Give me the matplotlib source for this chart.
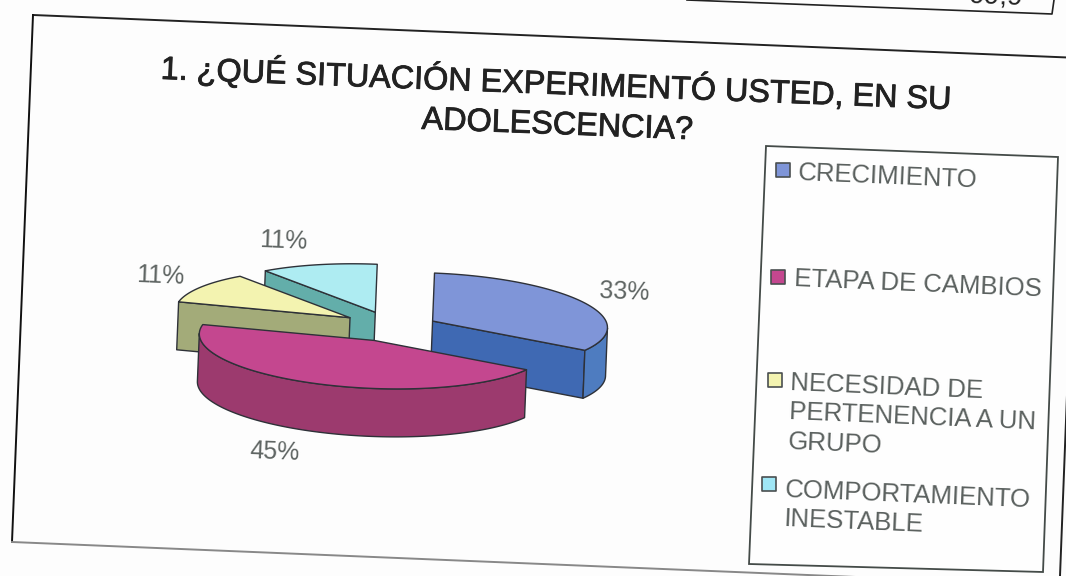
#!/usr/bin/env python3

import numpy as np
import matplotlib
matplotlib.use('Agg')
import matplotlib.pyplot as plt
import matplotlib.patheffects as pe
from matplotlib.patches import Polygon
from matplotlib.transforms import Affine2D

title_lines = ['1. ¿QUÉ SITUACIÓN EXPERIMENTÓ USTED, EN SU', 'ADOLESCENCIA?']
categories = ['CRECIMIENTO', 'ETAPA DE CAMBIOS',
              'NECESIDAD DE\nPERTENENCIA A UN\nGRUPO',
              'COMPORTAMIENTO\nINESTABLE']
values = [33, 45, 11, 11]
table_total = '99,9'

# colours per slice
top_col = ['#7F95D8', '#C4478F', '#F3F3B0', '#AEECF2']
cut_col = ['#3F69B3', '#9C3A6E', '#A3AB79', '#63AEAA']
wall_col = ['#4E7CC0', '#9C3A6E', '#A3AB79', '#63AEAA']
legend_col = ['#7F95D8', '#C4478F', '#F3F3B0', '#9FE6F5']

# pie layout, in image pixels
cx, cy = 391, 327
rx, ry = 175, 48
depth = 48
ex, ey = 48, 15
tilt = 2.3

label_xy = [(624, 292), (275, 452), (160, 276), (283, 241)]
legend_patch_xy = [(783, 170), (778, 277), (775, 380), (769, 484)]
legend_text_xy = [(798, 173), (794, 279), (790, 383), (785, 490)]
line_step = 29.5

fig = plt.figure(figsize=(10.66, 5.76), dpi=100, facecolor='#FDFDFD')
ax = fig.add_axes([0, 0, 1, 1])
ax.set_xlim(0, 1066)
ax.set_ylim(576, 0)
ax.axis('off')
plt.rcParams['font.family'] = ['Liberation Sans', 'DejaVu Sans']

# scanned page frames
ax.plot([33, 1080, 1060], [15, 58, 576], color='#222222', lw=1.4)
ax.plot([33, 12], [15, 542], color='#111111', lw=1.4)
ax.plot([12, 880], [542, 578], color='#888888', lw=1.4)
ax.plot([687, 1052, 1054], [0, 14, 0], color='#222222', lw=1.2)
ax.text(1023, 5, table_total, ha='right', va='baseline', rotation=-2.3,
        rotation_mode='anchor', fontsize=20, color='#222222')

# title looks heavier in the scan, thin stroke to thicken it
heavy = [pe.withStroke(linewidth=0.6, foreground='#222222')]
ax.text(556, 94, title_lines[0], ha='center', va='baseline', rotation=-2.2,
        rotation_mode='anchor', fontsize=23.3, color='#222222', path_effects=heavy)
ax.text(557, 134, title_lines[1], ha='center', va='baseline', rotation=-2.2,
        rotation_mode='anchor', fontsize=23.3, color='#222222', path_effects=heavy)

rot = Affine2D().rotate_deg_around(cx, cy, tilt) + ax.transData


def face(pts, col, z):
    ax.add_patch(Polygon(pts, closed=True, facecolor=col, edgecolor='#2E3138',
                         lw=1.0, joinstyle='round', transform=rot, zorder=z))


frac = np.array(values) / sum(values)
ends = np.cumsum(frac) * 2 * np.pi
starts = ends - frac * 2 * np.pi

# back slices first, magenta last because it sits in front
for z, i in enumerate([3, 2, 0, 1]):
    a, b = starts[i], ends[i]
    mid = (a + b) / 2
    ox = cx + ex * np.sin(mid)
    oy = cy - ey * np.cos(mid)
    t = np.linspace(a, b, 120)
    ax_x = ox + rx * np.sin(t)
    ax_y = oy - ry * np.cos(t)

    # radial cut faces that look at the viewer
    for ang, show in ((a, np.sin(a) < -1e-6), (b, np.sin(b) > 1e-6)):
        if show:
            px = ox + rx * np.sin(ang)
            py = oy - ry * np.cos(ang)
            face([(ox, oy), (px, py), (px, py + depth), (ox, oy + depth)],
                 cut_col[i], z * 3 + 1)

    # outer wall, front half of the ellipse only
    lo, hi = max(a, np.pi / 2), min(b, 3 * np.pi / 2)
    if hi > lo:
        w = np.linspace(lo, hi, 120)
        wx = ox + rx * np.sin(w)
        wy = oy - ry * np.cos(w)
        pts = list(zip(wx, wy)) + list(zip(wx[::-1], wy[::-1] + depth))
        face(pts, wall_col[i], z * 3 + 2)

    face([(ox, oy)] + list(zip(ax_x, ax_y)), top_col[i], z * 3 + 3)

for v, (x, y) in zip(values, label_xy):
    ax.text(x, y, f'{v}%', ha='center', va='center', rotation=-2.3,
            rotation_mode='anchor', fontsize=18, color='#5E6462', zorder=20)

# legend box
ax.add_patch(Polygon([(766, 146), (1058, 157), (1043, 572), (749, 564)], closed=True,
                     facecolor='#FEFEFE', edgecolor='#444B48', lw=1.3, zorder=15))
for name, col, (px, py), (tx, ty) in zip(categories, legend_col, legend_patch_xy, legend_text_xy):
    ax.scatter([px], [py], marker='s', s=110, color=col, edgecolor='#4A4F50',
               linewidth=1.2, zorder=16)
    for k, line in enumerate(name.split('\n')):
        ax.text(tx - k * 1.2, ty + k * line_step, line, ha='left', va='center',
                rotation=-2.4, rotation_mode='anchor', fontsize=18.5,
                color='#5A605E', zorder=16)

fig.savefig('out.png', dpi=100, facecolor=fig.get_facecolor())
